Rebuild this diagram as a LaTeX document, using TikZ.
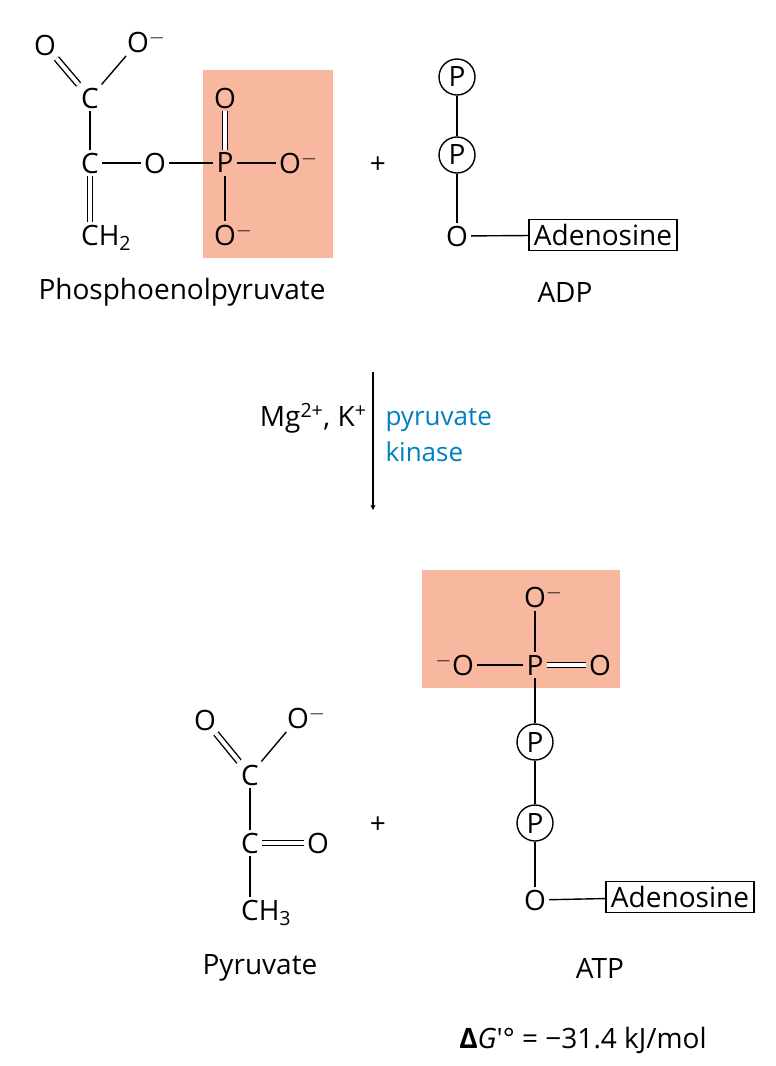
\documentclass[tikz,border=0pt]{standalone}
\usepackage{fontspec}
\setmainfont{Open Sans}
\begin{document}
\begin{tikzpicture}[x=1pt,y=-1pt,
  every node/.style={font=\fontsize{28}{32}\selectfont},
  a/.style={inner sep=3pt},
  b/.style={line width=1.4pt},
  db/.style={line width=1.4pt,double distance=4pt,double=white},
  pc/.style={circle,draw,line width=1.4pt,inner sep=1pt,minimum size=36pt},
  box/.style={draw,line width=1.4pt,inner sep=5pt},
  pink/.style={fill={rgb,255:red,248;green,184;blue,160},draw=none}]
\useasboundingbox (0,0) rectangle (776,1066);
% PEP
\fill[pink] (203,70) rectangle (333,258);
\node[a] (o1) at (45,45) {O};
\node[a] (o2) at (138,42) {O\rlap{$^{-}$}};
\node[a] (c1) at (90,98) {C};
\node[a] (c2) at (90,163) {C};
\node[a] (o3) at (155,163) {O};
\node[a] (p1) at (225,163) {P};
\node[a] (o4) at (290,163) {O\rlap{$^{-}$}};
\node[a] (o5) at (225,98) {O};
\node[a] (o6) at (225,235) {O\rlap{$^{-}$}};
\node[a] (ch2) at (90,238) {C\rlap{H\textsubscript{2}}};
\draw[db] (o1) -- (c1);
\draw[b] (o2) -- (c1); \draw[b] (c1) -- (c2); \draw[b] (c2) -- (o3);
\draw[b] (o3) -- (p1); \draw[b] (p1) -- (o4); \draw[db] (p1) -- (o5);
\draw[b] (p1) -- (o6); \draw[db] (c2) -- (ch2);
\node (pl1) at (378,165) {+};
% ADP
\node[pc] (ap1) at (457,77) {P};
\node[pc] (ap2) at (457,155) {P};
\node[a] (ao) at (457,236) {O};
\node[box] (aad) at (603,235) {Adenosine};
\draw[b] (ap1) -- (ap2); \draw[b] (ap2) -- (ao); \draw[b] (ao) -- (aad);
\node (l1) at (182,292) {Phosphoenolpyruvate};
\node (l2) at (565,292) {ADP};
% arrow
\coordinate (ar1) at (373,372); \coordinate (ar2) at (373,510);
\draw[line width=1.3pt,-stealth] (ar1) -- (ar2);
\node[anchor=east] (mg) at (370,418) {Mg\textsuperscript{2+}, K\textsuperscript{+}};
\node[anchor=west,align=left,text={rgb,255:red,0;green,128;blue,190},font=\fontsize{26}{36}\selectfont] (enz) at (382,435) {pyruvate\\kinase};
% Pyruvate
\node[a] (q1) at (205,720) {O};
\node[a] (q2) at (298,718) {O\rlap{$^{-}$}};
\node[a] (qc1) at (250,775) {C};
\node[a] (qc2) at (250,843) {C};
\node[a] (q3) at (318,843) {O};
\node[a] (ch3) at (250,913) {C\rlap{H\textsubscript{3}}};
\draw[db] (q1) -- (qc1); \draw[b] (q2) -- (qc1); \draw[b] (qc1) -- (qc2);
\draw[db] (qc2) -- (q3); \draw[b] (qc2) -- (ch3);
\node (pl2) at (378,825) {+};
% ATP
\fill[pink] (422,570) rectangle (620,688);
\node[a] (t1) at (535,597) {O\rlap{$^{-}$}};
\node[a] (tp) at (535,665) {P};
\node[a] (t2) at (463,665) {\llap{$^{-}$}O};
\node[a] (t3) at (600,665) {O};
\node[pc] (tp1) at (535,742) {P};
\node[pc] (tp2) at (535,823) {P};
\node[a] (to) at (535,900) {O};
\node[box] (tad) at (680,897) {Adenosine};
\draw[b] (t1) -- (tp); \draw[b] (t2) -- (tp); \draw[db] (tp) -- (t3);
\draw[b] (tp) -- (tp1); \draw[b] (tp1) -- (tp2); \draw[b] (tp2) -- (to); \draw[b] (to) -- (tad);
\node (l3) at (260,968) {Pyruvate};
\node (l4) at (600,968) {ATP};
\node (dg) at (583,1040) {\textbf{Δ}\textit{G}′° = −31.4 kJ/mol};
\end{tikzpicture}
\end{document}
